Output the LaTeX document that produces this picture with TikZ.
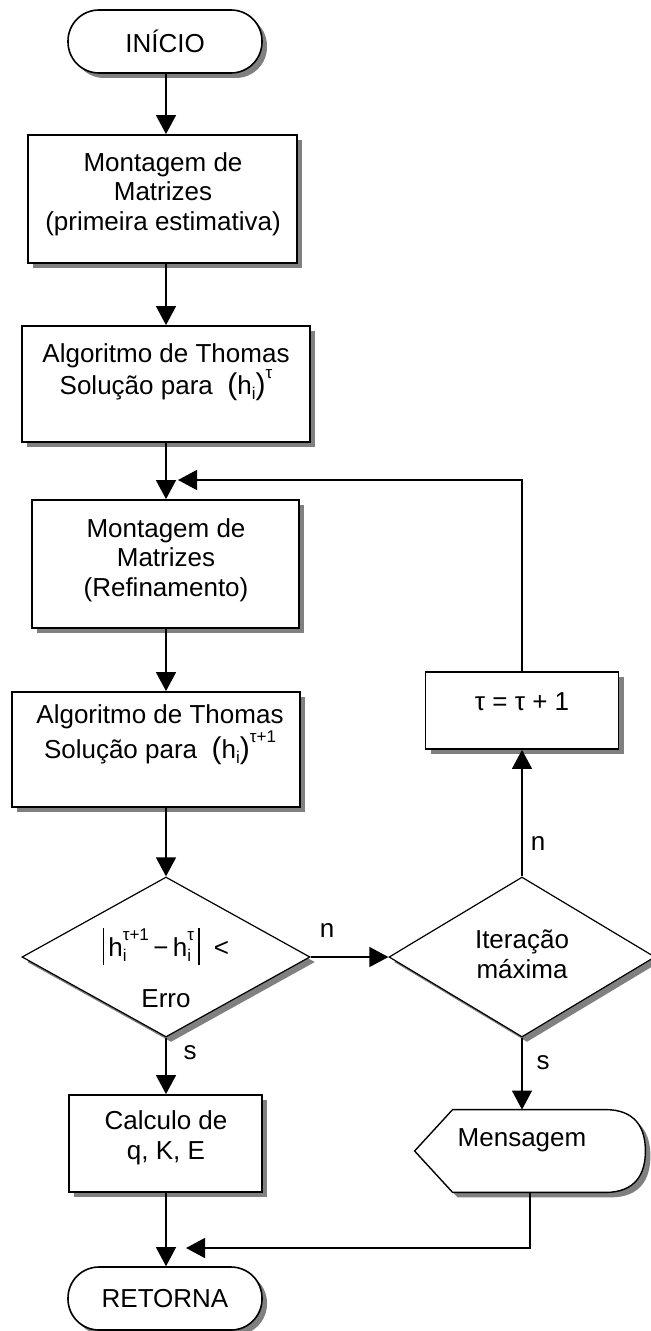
\documentclass[tikz,border=0pt]{standalone}
\usepackage{fontspec}
\setmainfont{Liberation Sans}
\usetikzlibrary{shapes.geometric,shadows,arrows.meta,calc}

% small raised / lowered indices and larger parentheses
\newcommand\sbs[1]{\raisebox{-2.5pt}{\fontsize{8.5}{9}\selectfont #1}}
\newcommand\sps[1]{\raisebox{8pt}{\fontsize{8.5}{9}\selectfont #1}}
\newcommand\bigp[1]{{\fontsize{15}{15}\selectfont #1}}
\newcommand\absbar{\rule[-4.5pt]{0.6pt}{18.5pt}}

\begin{document}
\begin{tikzpicture}[x=0.5pt,y=-0.5pt,
  font=\fontsize{13}{14.8}\selectfont,
  dshadow/.style={drop shadow={shadow xshift=2.5pt,shadow yshift=-2.5pt,fill=black!50,opacity=1}},
  term/.style={draw,line width=0.8pt,fill=white,dshadow,rounded corners=15.5pt,inner sep=0pt,minimum width=97pt,minimum height=31.5pt},
  proc/.style={draw,line width=0.9pt,fill=white,dshadow,inner sep=0pt},
  decis/.style={diamond,draw,line width=0.6pt,fill=white,dshadow,inner sep=0pt},
  txt/.style={align=center,inner sep=0pt},
  flow/.style={line width=0.65pt,-{Triangle[length=9.5pt,width=10pt]}},
  lbl/.style={inner sep=0pt}
]
\useasboundingbox (0,0) rectangle (651,1331);

% shapes
\node[term] (ini) at (165,41.5) {INÍCIO};
\node[proc,minimum width=134.5pt,minimum height=64pt] (b1) at (162.5,199) {};
\node[proc,minimum width=144pt,minimum height=58pt] (b2) at (166,384) {};
\node[proc,minimum width=133.5pt,minimum height=64pt] (b3) at (165.5,564) {};
\node[proc,minimum width=144pt,minimum height=57.5pt] (b4) at (156,749.5) {};
\node[decis,minimum width=144pt,minimum height=80pt] (d1) at (166,957) {};
\node[decis,minimum width=133pt,minimum height=80pt] (d2) at (522,957) {};
\node[proc,minimum width=96.5pt,minimum height=38.5pt] (tau) at (522,710.5) {};
\node[proc,minimum width=96.5pt,minimum height=48.5pt] (calc) at (165.5,1143.5) {};
\node[term] (ret) at (165,1298.5) {RETORNA};

% display symbol for the message
\node[inner sep=0pt,minimum width=115pt,minimum height=41pt] (msg) at (530,1151) {};
\draw[dshadow,fill=white,line width=0.7pt]
  (msg.west) -- ($(msg.north west)+(38,0)$) -- ($(msg.north east)+(-40,0)$)
  .. controls ($(msg.north east)+(-10,0)$) and ($(msg.east)+(0,-23)$) .. (msg.east)
  .. controls ($(msg.east)+(0,23)$) and ($(msg.south east)+(-10,0)$) .. ($(msg.south east)+(-40,0)$)
  -- ($(msg.south west)+(38,0)$) -- cycle;

% texts
\node[txt] (t1) at (163,194) {Montagem de\\Matrizes\\(primeira estimativa)};
\node[txt] (t2) at (166,372) {Algoritmo de Thomas\\Solução para\ \ \bigp{(}h\sbs{i}\bigp{)}\sps{τ}};
\node[txt] (t3) at (166,560) {Montagem de\\Matrizes\\(Refinamento)};
\node[txt] (t4) at (160,735) {Algoritmo de Thomas\\Solução para\ \ \bigp{(}h\sbs{i}\bigp{)}\sps{τ+1}};
\node[txt] (t5) at (166,968) {\absbar\,h\rlap{\sbs{i}}\sps{τ+1}\,−\,h\rlap{\sbs{i}}\sps{τ}\,\absbar\ \ <\\[11pt]Erro};
\node[txt] (t6) at (166,1138) {Calculo de\\q, K, E};
\node[txt] (t7) at (522,702) {τ = τ + 1};
\node[txt] (t8) at (522,954) {Iteração\\máxima};
\node[txt] (t9) at (522,1140) {Mensagem};

% connectors
\coordinate (col) at (166,0);
\coordinate (loopin) at (178,480);
\coordinate (mergein) at (186,1248);
\draw[flow] (col |- ini.south) -- (col |- b1.north);
\draw[flow] (col |- b1.south) -- (col |- b2.north);
\draw[flow] (col |- b2.south) -- (col |- b3.north);
\draw[flow] (col |- b3.south) -- (col |- b4.north);
\draw[flow] (col |- b4.south) -- (d1.north);
\draw[flow] (d1.south) -- (col |- calc.north);
\draw[flow] (col |- calc.south) -- (col |- ret.north);
\draw[flow] (d1.east) -- (d2.west);
\draw[flow] (d2.north) -- (tau.south);
\draw[flow] (tau.north) |- (loopin);
\draw[flow] (d2.south) -- (d2.south |- msg.north);
\draw[flow] (msg.south) |- (mergein);

% branch labels
\node[lbl] (ln1) at (327,930) {n};
\node[lbl] (ln2) at (538,843) {n};
\node[lbl] (ls1) at (190,1053) {s};
\node[lbl] (ls2) at (543,1063) {s};
\end{tikzpicture}
\end{document}
